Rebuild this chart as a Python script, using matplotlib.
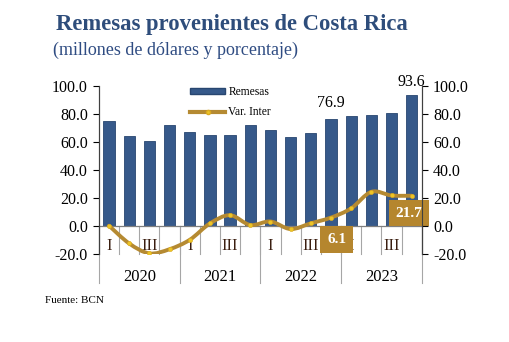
import numpy as np
import matplotlib
matplotlib.use('Agg')
import matplotlib.pyplot as plt
from matplotlib.path import Path
from matplotlib.patches import PathPatch
from matplotlib.lines import Line2D
from matplotlib.patches import Patch

plt.rcParams['font.family'] = ['Liberation Serif', 'DejaVu Serif']

years = ['2020', '2021', '2022', '2023']
quarters = ['I', '', 'III', ''] * 4
remesas = [75.2, 64.3, 60.7, 72.0, 67.4, 65.0, 65.0, 72.6,
           69.0, 63.8, 66.9, 76.9, 78.4, 79.6, 81.0, 93.6]
var_inter = [0.3, -12.4, -19.5, -16.5, -9.8, 1.9, 7.8, 0.8,
             3.3, -2.1, 2.0, 6.1, 12.7, 24.5, 21.9, 21.7]

blue = '#36598A'
gold = '#B58A32'
navy = '#2E4D7B'

fig = plt.figure(figsize=(5.1, 3.42), dpi=100)
ax = fig.add_axes([0.194, 0.257, 0.633, 0.491])
x = np.arange(len(remesas))

ax.bar(x, remesas, width=0.56, color=blue, edgecolor='#284670', linewidth=0.6, zorder=2)

# smooth line like Excel (Catmull-Rom -> bezier)
pts = np.column_stack([x, var_inter]).astype(float)
verts = [pts[0]]
codes = [Path.MOVETO]
n = len(pts)
for i in range(n - 1):
    p0 = pts[i - 1] if i > 0 else pts[i]
    p1 = pts[i]
    p2 = pts[i + 1]
    p3 = pts[i + 2] if i + 2 < n else pts[i + 1]
    c1 = p1 + (p2 - p0) / 6
    c2 = p2 - (p3 - p1) / 6
    verts += [c1, c2, p2]
    codes += [Path.CURVE4] * 3
ax.add_patch(PathPatch(Path(verts, codes), fill=False, edgecolor=gold, lw=2.8, zorder=3,
                       capstyle='round', joinstyle='round'))
ax.plot(x, var_inter, ls='none', marker='o', ms=3, mfc='#EDC526', mec='#D9A820', mew=0.4, zorder=4)

ax.set_xlim(-0.5, len(remesas) - 0.5)
ax.set_ylim(-20, 100)
ax.set_yticks(np.arange(-20, 101, 20))
ax.set_yticklabels([f'{v:.1f}' for v in range(-20, 101, 20)], fontsize=11.5)
ax.tick_params(axis='y', direction='out', length=4, width=0.8, pad=4)
ax.set_xticks([])
ax.axhline(0, color='#7F7F7F', lw=0.9, zorder=2.5)

ax2 = ax.twinx()
ax2.set_ylim(-20, 100)
ax2.set_yticks(np.arange(-20, 101, 20))
ax2.set_yticklabels([f'{v:.1f}' for v in range(-20, 101, 20)], fontsize=11.5)
ax2.tick_params(axis='y', direction='out', length=4, width=0.8, pad=4)

for a in (ax, ax2):
    a.spines['top'].set_visible(False)
    a.spines['bottom'].set_visible(False)
    a.spines['left'].set_color('#404040')
    a.spines['right'].set_color('#404040')
    a.spines['left'].set_bounds(-20, 100)
    a.spines['right'].set_bounds(-20, 100)

# category axis: quarter and year labels with separators
trans = ax.get_xaxis_transform()
for i, q in enumerate(quarters):
    if q:
        ax.text(i, -14, q, ha='center', va='center', fontsize=12, color='#3A1E10', zorder=1)
for b in np.arange(-0.5, len(remesas), 1):
    ax.plot([b, b], [0, -20], color='#A6A6A6', lw=0.8, zorder=1, clip_on=False)
for b in np.arange(-0.5, len(remesas), 4):
    ax.plot([b, b], [1/6, -0.173], transform=trans, color='#A6A6A6', lw=0.8, clip_on=False)
for k, yr in enumerate(years):
    ax.text(4 * k + 1.5, -0.137, yr, transform=trans, ha='center', va='center', fontsize=12)

# labels
ax.text(15, remesas[15] + 4, f'{remesas[15]:.1f}', ha='center', va='bottom', fontsize=11.5, clip_on=False)
ax.text(11, remesas[11] + 5.5, f'{remesas[11]:.1f}', ha='center', va='bottom', fontsize=11.5)
box = dict(boxstyle='square,pad=0.45', fc='#B5862E', ec='none')
ax.text(11.28, -9.6, f'{var_inter[11]:.1f}', ha='center', va='center', fontsize=11,
        color='white', fontweight='bold', bbox=box, zorder=5)
ax.text(14.87, 9.3, f'{var_inter[15]:.1f}', ha='center', va='center', fontsize=11,
        color='white', fontweight='bold', bbox=box, zorder=5)

handles = [Patch(facecolor=blue, edgecolor='#284670'),
           Line2D([], [], color=gold, lw=3, marker='o', ms=3, mfc='#EDC526', mec='#D9A820')]
fig.legend(handles, ['Remesas', 'Var. Inter'], loc='upper left', bbox_to_anchor=(0.362, 0.765),
           frameon=False, fontsize=8.3, handlelength=3.0, handleheight=0.5, handletextpad=0.3,
           labelspacing=0.7, borderpad=0)

fig.text(0.110, 0.927, 'Remesas provenientes de Costa Rica', fontsize=16.3, fontweight='bold',
         color=navy, va='center')
fig.text(0.104, 0.853, '(millones de dólares y porcentaje)', fontsize=13, color='#2F4C82', va='center')
fig.text(0.088, 0.122, 'Fuente: BCN', fontsize=8, va='center')

fig.savefig('out.png', dpi=100)
